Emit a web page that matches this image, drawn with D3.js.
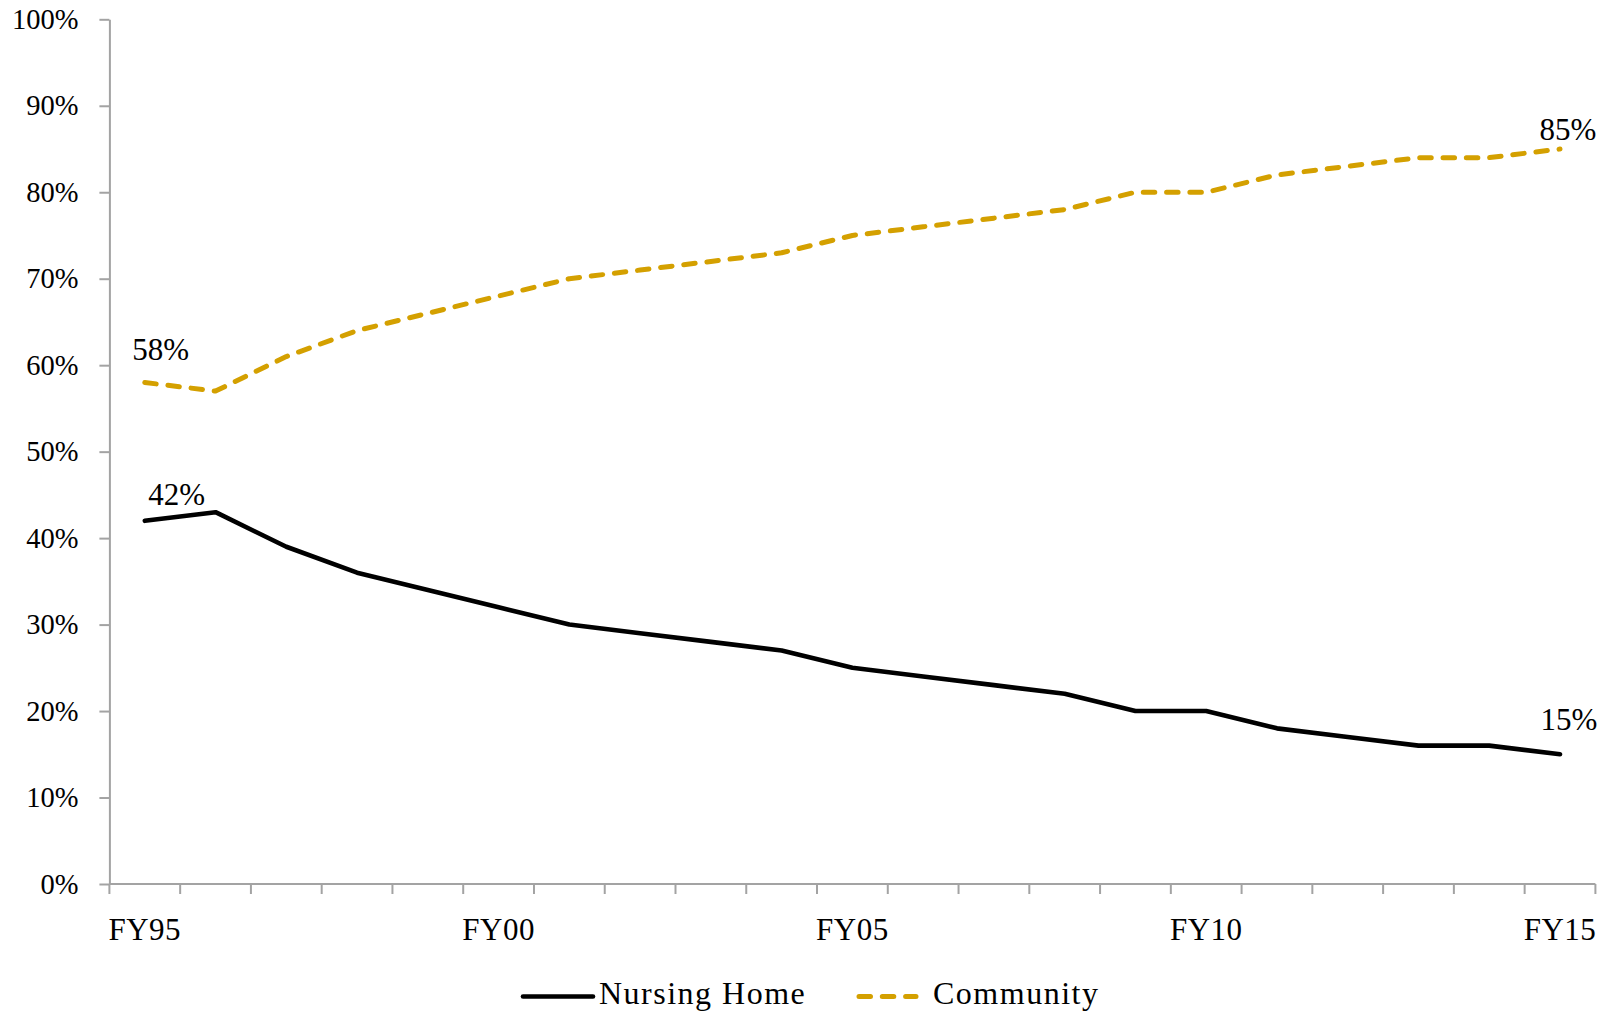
<!DOCTYPE html>
<html>
<head>
<meta charset="utf-8">
<script src="https://cdn.jsdelivr.net/npm/d3@7"></script>
<style>
  html, body { margin: 0; padding: 0; background: #fff; }
  svg { display: block; }
  text { font-family: "Liberation Serif", "Times New Roman", serif; fill: #000; }
</style>
</head>
<body>
<svg id="chart" width="1618" height="1014"></svg>
<script>
// ---- data ----
const categories = ["FY95","FY96","FY97","FY98","FY99","FY00","FY01","FY02","FY03","FY04","FY05",
                    "FY06","FY07","FY08","FY09","FY10","FY11","FY12","FY13","FY14","FY15"];
const nursingHome = [42,43,39,36,34,32,30,29,28,27,25,24,23,22,20,20,18,17,16,16,15];
const community   = [58,57,61,64,66,68,70,71,72,73,75,76,77,78,80,80,82,83,84,84,85];
const xTickLabels = ["FY95","FY00","FY05","FY10","FY15"];
const yTicks = [0,10,20,30,40,50,60,70,80,90,100];
const seriesNames = ["Nursing Home","Community"];

(function () {
// ---- setup ----
const svg = d3.select("#chart");
const pLeft = 109.4, pRight = 1595.4, pTop = 19.3, pBottom = 884;
const x = d3.scaleBand().domain(categories).range([pLeft, pRight]).paddingInner(0).paddingOuter(0);
const y = d3.scaleLinear().domain([0, 100]).range([pBottom, pTop]);
const cx = d => x(d) + x.bandwidth() / 2;
const axisColor = "#a3a3a3";
const gold = "#D4A000";

// y axis
const gy = svg.append("g").attr("transform", `translate(${pLeft},0)`)
  .call(d3.axisLeft(y).tickValues(yTicks).tickFormat(d => d + "%").tickSize(10).tickSizeOuter(0).tickPadding(21));
gy.select(".domain").attr("stroke", axisColor).attr("stroke-width", 2);
gy.selectAll(".tick line").attr("stroke", axisColor).attr("stroke-width", 2);
gy.selectAll(".tick text")
  .attr("font-family", "Liberation Serif, serif")
  .attr("font-size", 28.5)
  .attr("fill", "#000")
  .attr("dy", "0.32em");

// x axis: line + ticks at category boundaries
const gx = svg.append("g").attr("transform", `translate(0,${pBottom})`);
gx.append("line").attr("x1", pLeft).attr("x2", pRight).attr("y1", 0).attr("y2", 0)
  .attr("stroke", axisColor).attr("stroke-width", 2);
const boundaries = categories.map(c => x(c)).concat([x.range()[1]]);
gx.selectAll("line.tk").data(boundaries).join("line").attr("class", "tk")
  .attr("x1", d => d).attr("x2", d => d).attr("y1", 0).attr("y2", 10)
  .attr("stroke", axisColor).attr("stroke-width", 2);
// x labels through axis generator (band scale centers them)
const gxl = svg.append("g").attr("transform", `translate(0,${pBottom})`)
  .call(d3.axisBottom(x).tickValues(xTickLabels).tickSize(0).tickPadding(0));
gxl.select(".domain").remove();
gxl.selectAll(".tick text")
  .attr("font-family", "Liberation Serif, serif")
  .attr("font-size", 31)
  .attr("letter-spacing", 0.5)
  .attr("fill", "#000")
  .attr("dy", 0)
  .attr("y", 56);

// lines
const line = d3.line().x((d, i) => cx(categories[i])).y(d => y(d));
svg.append("path").datum(community).attr("d", line)
  .attr("fill", "none").attr("stroke", gold).attr("stroke-width", 5)
  .attr("stroke-dasharray", "11.5,11.8").attr("stroke-linecap", "round").attr("stroke-linejoin", "round");
svg.append("path").datum(nursingHome).attr("d", line)
  .attr("fill", "none").attr("stroke", "#000").attr("stroke-width", 4.6)
  .attr("stroke-linecap", "round").attr("stroke-linejoin", "round");

// data labels (first and last points)
const n = categories.length - 1;
const labels = [
  {cat: categories[0], v: community[0],  dx: 16, dy: -22},
  {cat: categories[0], v: nursingHome[0], dx: 32, dy: -16},
  {cat: categories[n], v: community[n],  dx: 8,  dy: -9},
  {cat: categories[n], v: nursingHome[n], dx: 9,  dy: -24}
];
svg.selectAll("text.dl").data(labels).join("text").attr("class", "dl")
  .attr("x", d => cx(d.cat) + d.dx)
  .attr("y", d => y(d.v) + d.dy)
  .attr("text-anchor", "middle")
  .attr("font-size", 31)
  .text(d => d.v + "%");

// legend
const lg = svg.append("g");
const legendItems = [
  {name: seriesNames[0], x1: 523, x2: 593, tx: 599, color: "#000", dash: null, w: 4.6},
  {name: seriesNames[1], x1: 859, x2: 916, tx: 933, color: gold, dash: "11.5,11.8", w: 5}
];
legendItems.forEach(it => {
  lg.append("line").attr("x1", it.x1).attr("x2", it.x2).attr("y1", 996.5).attr("y2", 996.5)
    .attr("stroke", it.color).attr("stroke-width", it.w).attr("stroke-linecap", "round")
    .attr("stroke-dasharray", it.dash);
  lg.append("text").attr("x", it.tx).attr("y", 1004).attr("font-size", 32)
    .attr("letter-spacing", 1.5).text(it.name);
});
})();
</script>
</body>
</html>
